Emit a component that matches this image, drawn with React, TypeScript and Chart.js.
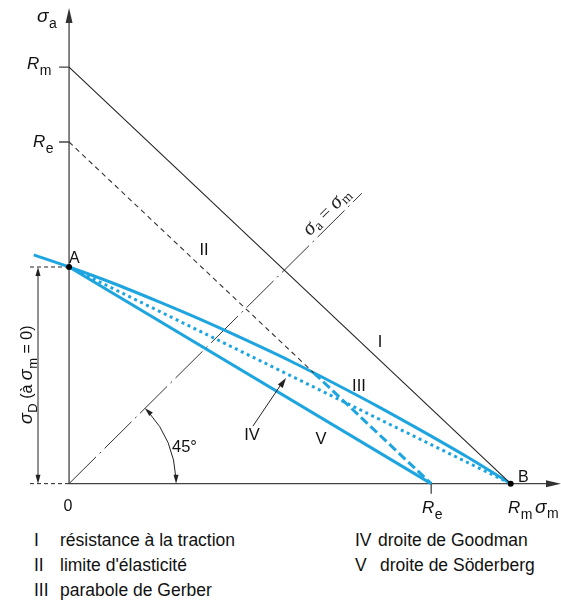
import { useEffect, useRef } from "react";
import { Chart, registerables } from "chart.js";

Chart.register(...registerables);

// ---- values (Rm = 100) ----
const Rm = 100;
const Re = 82;
const sigmaD = 52;
const gerberSm = [-8, 0, 10, 20, 30, 40, 50, 60, 70, 80, 90, 100];
const gerberSa = [54.9, 52, 48.1, 43.8, 39.3, 34.5, 29.5, 24.1, 18.5, 12.6, 6.5, 0];
const yieldBreak = [55.4, 26.6]; // where line II meets the Gerber parabola
const bisectorEnd = [66.3, 69.7];
const legendLeft = [
  ["I", "résistance à la traction"],
  ["II", "limite d'élasticité"],
  ["III", "parabole de Gerber"],
];
const legendRight = [
  ["IV", "droite de Goodman"],
  ["V", "droite de Söderberg"],
];

const BLUE = "#1ea5e0";
const INK = "#222";
const SANS = '"Liberation Sans", Arial, Helvetica, sans-serif';
const SERIF = '"Liberation Serif", "Times New Roman", serif';

const W = 561;
const H = 530;
const X0 = 66; // pixel of σm = 0
const Y0 = 487; // pixel of σa = 0
const PX_X = 4.48;
const PX_Y = 4.23;

function arrowHead(ctx: CanvasRenderingContext2D, tx: number, ty: number, ang: number, len = 8, half = 3) {
  ctx.beginPath();
  ctx.moveTo(tx, ty);
  ctx.lineTo(tx - len * Math.cos(ang) + half * Math.sin(ang), ty - len * Math.sin(ang) - half * Math.cos(ang));
  ctx.lineTo(tx - len * Math.cos(ang) - half * Math.sin(ang), ty - len * Math.sin(ang) + half * Math.cos(ang));
  ctx.closePath();
  ctx.fill();
}

function subText(
  ctx: CanvasRenderingContext2D,
  x: number,
  y: number,
  main: string,
  sub: string,
  mainFont: string,
  subFont: string,
  dy: number
) {
  ctx.font = mainFont;
  ctx.fillText(main, x, y);
  const w = ctx.measureText(main).width;
  ctx.font = subFont;
  ctx.fillText(sub, x + w + 0.5, y + dy);
  return w + 0.5 + ctx.measureText(sub).width;
}

const drawPlugin = {
  id: "haigh",
  beforeDatasetsDraw(chart: any) {
    const ctx: CanvasRenderingContext2D = chart.ctx;
    const xs = chart.scales.x;
    const ys = chart.scales.y;
    const px = (v: number) => xs.getPixelForValue(v);
    const py = (v: number) => ys.getPixelForValue(v);
    ctx.save();
    ctx.strokeStyle = "#444";
    ctx.fillStyle = "#333";
    ctx.lineWidth = 1.3;
    // axes
    ctx.beginPath();
    ctx.moveTo(px(0), py(0));
    ctx.lineTo(px(0), 18);
    ctx.moveTo(px(0), py(0));
    ctx.lineTo(552, py(0));
    ctx.stroke();
    arrowHead(ctx, px(0), 8, -Math.PI / 2, 15, 3.5);
    arrowHead(ctx, 561, py(0), 0, 15, 3.5);
    // ticks
    ctx.beginPath();
    ctx.moveTo(px(0) - 10, py(Rm));
    ctx.lineTo(px(0), py(Rm));
    ctx.moveTo(px(0) - 10, py(Re));
    ctx.lineTo(px(0), py(Re));
    ctx.moveTo(px(Re), py(0));
    ctx.lineTo(px(Re), py(0) + 10);
    ctx.stroke();
    // dimension helper dashes
    ctx.lineWidth = 1;
    ctx.strokeStyle = INK;
    ctx.setLineDash([4, 3]);
    ctx.beginPath();
    ctx.moveTo(30, py(sigmaD));
    ctx.lineTo(px(0), py(sigmaD));
    ctx.moveTo(30, py(0));
    ctx.lineTo(px(0), py(0));
    ctx.stroke();
    ctx.setLineDash([]);
    ctx.restore();
  },
  afterDatasetsDraw(chart: any) {
    const ctx: CanvasRenderingContext2D = chart.ctx;
    const xs = chart.scales.x;
    const ys = chart.scales.y;
    const px = (v: number) => xs.getPixelForValue(v);
    const py = (v: number) => ys.getPixelForValue(v);
    ctx.save();
    ctx.fillStyle = INK;
    ctx.strokeStyle = INK;
    ctx.lineWidth = 1;
    ctx.textBaseline = "alphabetic";
    ctx.textAlign = "left";

    // σD dimension line
    const dx = 38;
    ctx.beginPath();
    ctx.moveTo(dx, py(sigmaD) + 4);
    ctx.lineTo(dx, py(0) - 4);
    ctx.stroke();
    arrowHead(ctx, dx, py(sigmaD), -Math.PI / 2, 9, 2.5);
    arrowHead(ctx, dx, py(0), Math.PI / 2, 9, 2.5);

    // 45° arc
    const r = 107;
    ctx.beginPath();
    ctx.arc(px(0), py(0), r, -Math.PI / 4 + 0.05, -0.05);
    ctx.stroke();
    arrowHead(ctx, px(0) + r, py(0), Math.PI / 2, 9, 2.5);
    arrowHead(ctx, px(0) + r * Math.cos(Math.PI / 4), py(0) - r * Math.sin(Math.PI / 4), -Math.PI * 3 / 4, 9, 2.5);

    // arrow to Goodman line (IV)
    ctx.beginPath();
    ctx.moveTo(253, 426);
    ctx.lineTo(282, 383);
    ctx.stroke();
    arrowHead(ctx, 286, 378, Math.atan2(378 - 426, 286 - 253), 10, 3);

    // labels
    ctx.fillStyle = "#111";
    subText(ctx, 37, 22, "σ", "a", `italic 19px ${SANS}`, `14px ${SANS}`, 6);
    subText(ctx, 27, 69, "R", "m", `italic 17px ${SANS}`, `14px ${SANS}`, 6);
    subText(ctx, 33, 147, "R", "e", `italic 17px ${SANS}`, `14px ${SANS}`, 6);
    subText(ctx, 422, 513, "R", "e", `italic 17px ${SANS}`, `14px ${SANS}`, 6);
    subText(ctx, 508, 513, "R", "m", `italic 17px ${SANS}`, `14px ${SANS}`, 6);
    subText(ctx, 535, 513, "σ", "m", `italic 19px ${SANS}`, `14px ${SANS}`, 5);

    ctx.font = `16px ${SANS}`;
    ctx.fillText("A", 69, 263);
    ctx.fillText("B", 518, 482);
    ctx.textAlign = "center";
    ctx.fillText("0", px(0) - 1, 511);
    ctx.font = `16.5px ${SANS}`;
    ctx.fillText("I", 380, 347);
    ctx.fillText("II", 204, 255);
    ctx.fillText("III", 359, 391);
    ctx.fillText("IV", 252, 440);
    ctx.fillText("V", 321, 444);
    ctx.textAlign = "left";
    ctx.fillText("45°", 172, 452);

    // σD (à σm = 0) rotated
    ctx.save();
    ctx.translate(32, 424);
    ctx.rotate(-Math.PI / 2);
    let x = 0;
    x += subText(ctx, x, 0, "σ", "D", `italic 18px ${SANS}`, `13px ${SANS}`, 5);
    ctx.font = `16px ${SANS}`;
    ctx.fillText(" (à ", x, 0);
    x += ctx.measureText(" (à ").width;
    x += subText(ctx, x, 0, "σ", "m", `italic 18px ${SANS}`, `13px ${SANS}`, 5);
    ctx.font = `16px ${SANS}`;
    ctx.fillText(" = 0)", x, 0);
    ctx.restore();

    // σa = σm along the bisector
    const ang = Math.atan2(py(bisectorEnd[1]) - py(0), px(bisectorEnd[0]) - px(0));
    ctx.save();
    ctx.translate(px(0), py(0));
    ctx.rotate(ang);
    ctx.fillStyle = "#222";
    let t = 345;
    t += subText(ctx, t, -6, "σ", "a", `italic 21px ${SERIF}`, `14px ${SERIF}`, 3);
    ctx.font = `19px ${SERIF}`;
    ctx.fillText(" = ", t, -6);
    t += ctx.measureText(" = ").width;
    subText(ctx, t, -6, "σ", "m", `italic 21px ${SERIF}`, `14px ${SERIF}`, 3);
    ctx.restore();

    ctx.restore();
  },
};

function line(pts: number[][]) {
  return pts.map((p) => ({ x: p[0], y: p[1] }));
}

export default function App() {
  const ref = useRef<HTMLCanvasElement>(null);
  useEffect(() => {
    const canvas = ref.current!;
    const base = { showLine: true, pointRadius: 0, fill: false, tension: 0 };
    const chart = new Chart(canvas, {
      type: "scatter",
      data: {
        datasets: [
          { ...base, label: "points", data: line([[0, sigmaD], [Rm, 0]]), showLine: false, pointRadius: 3, pointBackgroundColor: "#000", pointBorderWidth: 0 },
          { ...base, label: "I", data: line([[0, Rm], [Rm, 0]]), borderColor: "#222", borderWidth: 1.1 },
          { ...base, label: "II", data: line([[0, Re], yieldBreak]), borderColor: "#333", borderWidth: 1.1, borderDash: [5, 4] },
          { ...base, label: "II'", data: line([yieldBreak, [Re, 0]]), borderColor: BLUE, borderWidth: 3, borderDash: [9, 4] },
          { ...base, label: "III", data: gerberSm.map((v, i) => ({ x: v, y: gerberSa[i] })), borderColor: BLUE, borderWidth: 3, cubicInterpolationMode: "monotone" },
          { ...base, label: "IV", data: line([[0, sigmaD], [Rm, 0]]), borderColor: BLUE, borderWidth: 3, borderDash: [3, 3.6] },
          { ...base, label: "V", data: line([[0, sigmaD], [Re, 0]]), borderColor: BLUE, borderWidth: 3 },
          { ...base, label: "bisector", data: line([[0, 0], bisectorEnd]), borderColor: "#333", borderWidth: 1, borderDash: [38, 5, 2, 5] },
        ],
      },
      options: {
        animation: false,
        responsive: false,
        devicePixelRatio: 1,
        layout: { padding: 0 },
        plugins: { legend: { display: false }, tooltip: { enabled: false } },
        events: [],
        scales: {
          x: { type: "linear", display: false, min: -X0 / PX_X, max: (W - X0) / PX_X },
          y: { type: "linear", display: false, min: -(H - Y0) / PX_Y, max: Y0 / PX_Y },
        },
      } as any,
      plugins: [drawPlugin],
    } as any);
    return () => chart.destroy();
  }, []);

  const itemStyle = (left: number, top: number): any => ({
    position: "absolute",
    left,
    top,
    whiteSpace: "nowrap",
    fontSize: 17.5,
    lineHeight: "20px",
    color: "#111",
  });

  return (
    <div style={{ position: "absolute", left: 0, top: 0, width: W, height: 603, background: "#fff", fontFamily: SANS }}>
      <canvas ref={ref} width={W} height={H} style={{ position: "absolute", left: 0, top: 0, width: W, height: H }} />
      {legendLeft.map((it, i) => (
        <div key={"l" + i}>
          <div style={itemStyle(34, 530 + i * 25)}>{it[0]}</div>
          <div style={itemStyle(60, 530 + i * 25)}>{it[1]}</div>
        </div>
      ))}
      {legendRight.map((it, i) => (
        <div key={"r" + i}>
          <div style={itemStyle(355, 530 + i * 25)}>{it[0]}</div>
          <div style={itemStyle(i === 0 ? 378 : 380, 530 + i * 25)}>{it[1]}</div>
        </div>
      ))}
    </div>
  );
}
